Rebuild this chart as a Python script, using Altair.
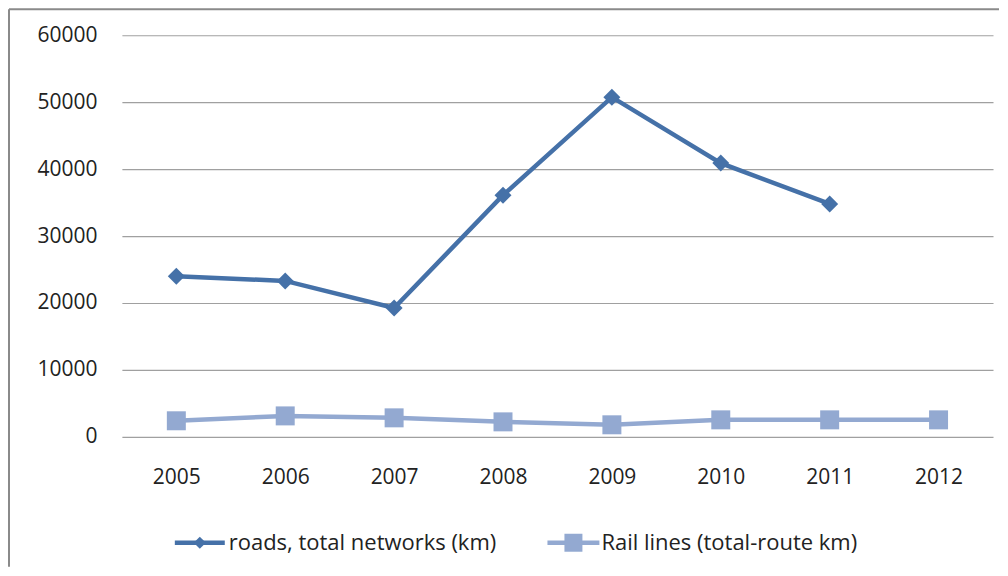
import altair as alt
import pandas as pd

years = ["2005", "2006", "2007", "2008", "2009", "2010", "2011", "2012"]
roads = [24000, 23300, 19250, 36100, 50750, 40900, 34800, None]
rail = [2400, 3130, 2840, 2240, 1800, 2540, 2540, 2540]
series_names = ["roads, total networks (km)", "Rail lines (total-route km)"]
series_colors = ["#4571A8", "#93A9D1"]
y_ticks = [0, 10000, 20000, 30000, 40000, 50000, 60000]

rows = []
for y, r in zip(years, roads):
    if r is not None:
        rows.append({"year": y, "value": r, "series": series_names[0]})
for y, r in zip(years, rail):
    rows.append({"year": y, "value": r, "series": series_names[1]})
df = pd.DataFrame(rows)

FONT = "Open Sans"
TEXT_COLOR = "#222"

x_enc = alt.X("year:O", scale=alt.Scale(domain=years, paddingInner=0, paddingOuter=0.5),
              axis=alt.Axis(title=None, labelAngle=0, ticks=False, domain=False,
                            labelPadding=30, labelFontSize=21, labelFont=FONT,
                            labelColor=TEXT_COLOR))
y_enc = alt.Y("value:Q", scale=alt.Scale(domain=[0, 60000], nice=False),
              axis=alt.Axis(title=None, values=y_ticks, ticks=False, domain=False,
                            format="d",
                            labelPadding=25, labelFontSize=21, labelFont=FONT,
                            labelColor=TEXT_COLOR, grid=True, gridColor="#A0A0A0",
                            gridWidth=1.2))
col_scale = alt.Scale(domain=series_names, range=series_colors)

base = alt.Chart(df)

lines = base.mark_line(strokeWidth=4.5).encode(
    x=x_enc, y=y_enc,
    color=alt.Color("series:N", scale=col_scale, legend=None),
    detail="series:N",
)
pts_roads = base.transform_filter(alt.datum.series == series_names[0]).mark_point(
    shape="diamond", filled=True, size=289, opacity=1).encode(
    x="year:O", y="value:Q",
    color=alt.Color("series:N", scale=col_scale, legend=None))
pts_rail = base.transform_filter(alt.datum.series == series_names[1]).mark_point(
    shape="square", filled=True, size=361, opacity=1).encode(
    x="year:O", y="value:Q",
    color=alt.Color("series:N", scale=col_scale, legend=None))

# --- hand-built legend (line segment + marker + label per series) ---
LEG_Y = 508
legend_items = [
    {"label": series_names[0], "color": series_colors[0], "shape": "diamond",
     "size": 150, "x0": 53, "x1": 103, "xm": 78, "xt": 107},
    {"label": series_names[1], "color": series_colors[1], "shape": "square",
     "size": 324, "x0": 426, "x1": 478, "xm": 452, "xt": 480},
]
legend_layers = []
for it in legend_items:
    src = alt.Chart(alt.Data(values=[{"label": it["label"]}]))
    legend_layers.append(src.mark_rule(stroke=it["color"], strokeWidth=4.5).encode(
        x=alt.value(it["x0"]), x2=alt.value(it["x1"]), y=alt.value(LEG_Y)))
    legend_layers.append(src.mark_point(shape=it["shape"], filled=True, size=it["size"],
                                        color=it["color"], opacity=1).encode(
        x=alt.value(it["xm"]), y=alt.value(LEG_Y)))
    legend_layers.append(src.mark_text(align="left", baseline="middle", font=FONT,
                                       fontSize=22, color=TEXT_COLOR).encode(
        x=alt.value(it["xt"]), y=alt.value(LEG_Y), text="label:N"))

frame = alt.Chart(alt.Data(values=[{"k": 1}]))
border_l = frame.mark_rule(stroke="#8A8A8A", strokeWidth=2).encode(
    x=alt.value(-113), y=alt.value(-26), y2=alt.value(532))
border_t = frame.mark_rule(stroke="#8A8A8A", strokeWidth=2).encode(
    x=alt.value(-113), x2=alt.value(878), y=alt.value(-26))

chart = alt.layer(border_l, border_t, lines, pts_roads, pts_rail, *legend_layers).properties(
    width=872, height=402,
    padding={"left": 0, "top": 0, "right": 0, "bottom": 0},
).configure_view(strokeWidth=0)

chart.save("out.html", embed_options={"renderer": "svg", "actions": False})
